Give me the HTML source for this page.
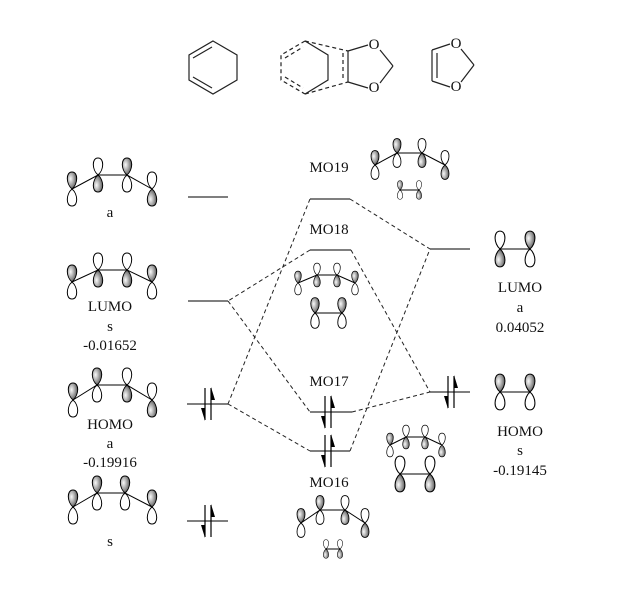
<!DOCTYPE html>
<html><head><meta charset="utf-8"><style>
html,body{margin:0;padding:0;background:#fff;}
svg{display:block;}
text{font-family:"Liberation Serif",serif;font-size:15px;fill:#111;}
</style></head><body>
<svg width="626" height="608" viewBox="0 0 626 608" xmlns="http://www.w3.org/2000/svg">
<defs>
<radialGradient id="g" cx="0.35" cy="0.4" r="0.8">
<stop offset="0" stop-color="#fafafa"/><stop offset="0.5" stop-color="#999"/><stop offset="1" stop-color="#333"/>
</radialGradient>
<path id="lw" d="M0,0 C-6,-5 -6.5,-17 0,-17 C6.5,-17 6,-5 0,0Z" fill="#fff" stroke="#000" stroke-width="1"/>
<path id="ls" d="M0,0 C-6,-5 -6.5,-17 0,-17 C6.5,-17 6,-5 0,0Z" fill="url(#g)" stroke="#000" stroke-width="1"/>
<g id="pu"><use href="#ls"/><use href="#lw" transform="scale(1,-1)"/></g>
<g id="pd"><use href="#lw"/><use href="#ls" transform="scale(1,-1)"/></g>
<g id="el" stroke="#000" stroke-width="1.2">
<line x1="-3" y1="-16" x2="-3" y2="16"/><line x1="3" y1="-16" x2="3" y2="16"/>
<polygon points="3,-17 7,-4 3,-4" fill="#000" stroke="none"/>
<polygon points="-3,17 -7,4 -3,4" fill="#000" stroke="none"/>
</g>
</defs>

<g stroke="#222" stroke-width="1.2" fill="none">
<polygon points="213,41 237,55 237,80 213,94 189,80 189,55"/>
<line x1="193" y1="58" x2="212" y2="47"/>
<line x1="193" y1="77" x2="212" y2="88"/>
<polyline points="305,41 328,55 328,80 305,94"/>
<polyline points="305,41 281,55 281,80 305,94" stroke-dasharray="4,3"/>
<line x1="285" y1="58" x2="303" y2="47" stroke-dasharray="4,3"/>
<line x1="285" y1="77" x2="303" y2="88" stroke-dasharray="4,3"/>
<line x1="305" y1="41" x2="348" y2="51" stroke-dasharray="4,3"/>
<line x1="305" y1="94" x2="348" y2="82" stroke-dasharray="4,3"/>
<line x1="348" y1="51" x2="348" y2="82"/>
<line x1="343" y1="53" x2="343" y2="80" stroke-dasharray="4,3"/>
<line x1="348" y1="51" x2="368" y2="45"/><line x1="348" y1="82" x2="368" y2="88"/>
<line x1="380" y1="50" x2="393" y2="66"/><line x1="380" y1="83" x2="393" y2="66"/>
<line x1="432" y1="50" x2="432" y2="81"/><line x1="437" y1="53" x2="437" y2="78"/>
<line x1="432" y1="50" x2="450" y2="44"/><line x1="432" y1="81" x2="450" y2="87"/>
<line x1="461" y1="49" x2="474" y2="65"/><line x1="461" y1="82" x2="474" y2="65"/>
</g>
<text x="374" y="49" text-anchor="middle">O</text>
<text x="374" y="92" text-anchor="middle">O</text>
<text x="456" y="48" text-anchor="middle">O</text>
<text x="456" y="91" text-anchor="middle">O</text>

<g stroke="#555" stroke-width="1.4">
<line x1="188" y1="197" x2="228" y2="197"/>
<line x1="188" y1="301" x2="228" y2="301"/>
<line x1="187" y1="404" x2="228" y2="404"/>
<line x1="187" y1="521" x2="228" y2="521"/>
<line x1="310" y1="199" x2="350" y2="199"/>
<line x1="310" y1="250" x2="351" y2="250"/>
<line x1="310" y1="412" x2="352" y2="412"/>
<line x1="310" y1="451" x2="350" y2="451"/>
<line x1="430" y1="249" x2="470" y2="249"/>
<line x1="430" y1="392" x2="470" y2="392"/>
</g>
<g stroke="#222" stroke-width="1" stroke-dasharray="4,3" fill="none">
<line x1="350" y1="199" x2="430" y2="249"/>
<line x1="310" y1="199" x2="228" y2="404"/>
<line x1="310" y1="250" x2="228" y2="301"/>
<line x1="351" y1="250" x2="430" y2="392"/>
<line x1="228" y1="301" x2="310" y2="412"/>
<line x1="228" y1="404" x2="310" y2="451"/>
<line x1="352" y1="412" x2="430" y2="392"/>
<line x1="350" y1="451" x2="430" y2="249"/>
</g>
<use href="#el" x="208" y="404"/>
<use href="#el" x="208" y="521"/>
<use href="#el" x="328" y="412"/>
<use href="#el" x="328" y="451"/>
<use href="#el" x="451" y="392"/>

<text x="110" y="217" text-anchor="middle">a</text>
<text x="110" y="311" text-anchor="middle">LUMO</text>
<text x="110" y="331" text-anchor="middle">s</text>
<text x="110" y="350" text-anchor="middle">-0.01652</text>
<text x="110" y="429" text-anchor="middle">HOMO</text>
<text x="110" y="448" text-anchor="middle">a</text>
<text x="110" y="467" text-anchor="middle">-0.19916</text>
<text x="110" y="546" text-anchor="middle">s</text>
<text x="329" y="172" text-anchor="middle">MO19</text>
<text x="329" y="234" text-anchor="middle">MO18</text>
<text x="329" y="386" text-anchor="middle">MO17</text>
<text x="329" y="487" text-anchor="middle">MO16</text>
<text x="520" y="292" text-anchor="middle">LUMO</text>
<text x="520" y="312" text-anchor="middle">a</text>
<text x="520" y="332" text-anchor="middle">0.04052</text>
<text x="520" y="436" text-anchor="middle">HOMO</text>
<text x="520" y="455" text-anchor="middle">s</text>
<text x="520" y="475" text-anchor="middle">-0.19145</text>

<g stroke="#000" stroke-width="1" fill="none">
<polyline points="72,189 98,175 127,175 152,189"/>
<polyline points="72,282 98,270 127,270 152,282"/>
<polyline points="73,400 97,385 127,385 152,400"/>
<polyline points="73,507 97,493 125,493 152,507"/>
<polyline points="375,165 397,153 422,153 445,165"/>
<line x1="400" y1="190" x2="419" y2="190"/>
<polyline points="298,283 317,275 337,275 355,283"/>
<line x1="315" y1="313" x2="342" y2="313"/>
<polyline points="390,445 406,437 425,437 442,445"/>
<line x1="400" y1="474" x2="430" y2="474"/>
<polyline points="301,523 320,510 345,510 365,523"/>
<line x1="326" y1="549" x2="340" y2="549"/>
<line x1="500" y1="249" x2="530" y2="249"/>
<line x1="500" y1="392" x2="530" y2="392"/>
</g>
<use href="#pu" transform="translate(72,189)"/>
<use href="#pd" transform="translate(98,175)"/>
<use href="#pu" transform="translate(127,175)"/>
<use href="#pd" transform="translate(152,189)"/>
<use href="#pu" transform="translate(72,282)"/>
<use href="#pd" transform="translate(98,270)"/>
<use href="#pd" transform="translate(127,270)"/>
<use href="#pu" transform="translate(152,282)"/>
<use href="#pu" transform="translate(73,400)"/>
<use href="#pu" transform="translate(97,385)"/>
<use href="#pd" transform="translate(127,385)"/>
<use href="#pd" transform="translate(152,400)"/>
<use href="#pu" transform="translate(73,507)"/>
<use href="#pu" transform="translate(97,493)"/>
<use href="#pu" transform="translate(125,493)"/>
<use href="#pu" transform="translate(152,507)"/>
<use href="#pu" transform="translate(375,165) scale(0.85)"/>
<use href="#pu" transform="translate(397,153) scale(0.85)"/>
<use href="#pd" transform="translate(422,153) scale(0.85)"/>
<use href="#pd" transform="translate(445,165) scale(0.85)"/>
<use href="#pu" transform="translate(400,190) scale(0.55)"/>
<use href="#pd" transform="translate(419,190) scale(0.55)"/>
<use href="#pu" transform="translate(298,283) scale(0.7)"/>
<use href="#pd" transform="translate(317,275) scale(0.7)"/>
<use href="#pd" transform="translate(337,275) scale(0.7)"/>
<use href="#pu" transform="translate(355,283) scale(0.7)"/>
<use href="#pu" transform="translate(315,313) scale(0.9)"/>
<use href="#pu" transform="translate(342,313) scale(0.9)"/>
<use href="#pu" transform="translate(390,445) scale(0.7)"/>
<use href="#pd" transform="translate(406,437) scale(0.7)"/>
<use href="#pd" transform="translate(425,437) scale(0.7)"/>
<use href="#pd" transform="translate(442,445) scale(0.7)"/>
<use href="#pd" transform="translate(400,474) scale(1.05)"/>
<use href="#pd" transform="translate(430,474) scale(1.05)"/>
<use href="#pu" transform="translate(301,523) scale(0.85)"/>
<use href="#pu" transform="translate(320,510) scale(0.85)"/>
<use href="#pd" transform="translate(345,510) scale(0.85)"/>
<use href="#pd" transform="translate(365,523) scale(0.85)"/>
<use href="#pd" transform="translate(326,549) scale(0.55)"/>
<use href="#pd" transform="translate(340,549) scale(0.55)"/>
<use href="#pd" transform="translate(500,249) scale(1.05)"/>
<use href="#pu" transform="translate(530,249) scale(1.05)"/>
<use href="#pu" transform="translate(500,392) scale(1.05)"/>
<use href="#pu" transform="translate(530,392) scale(1.05)"/>
</svg>
</body></html>
